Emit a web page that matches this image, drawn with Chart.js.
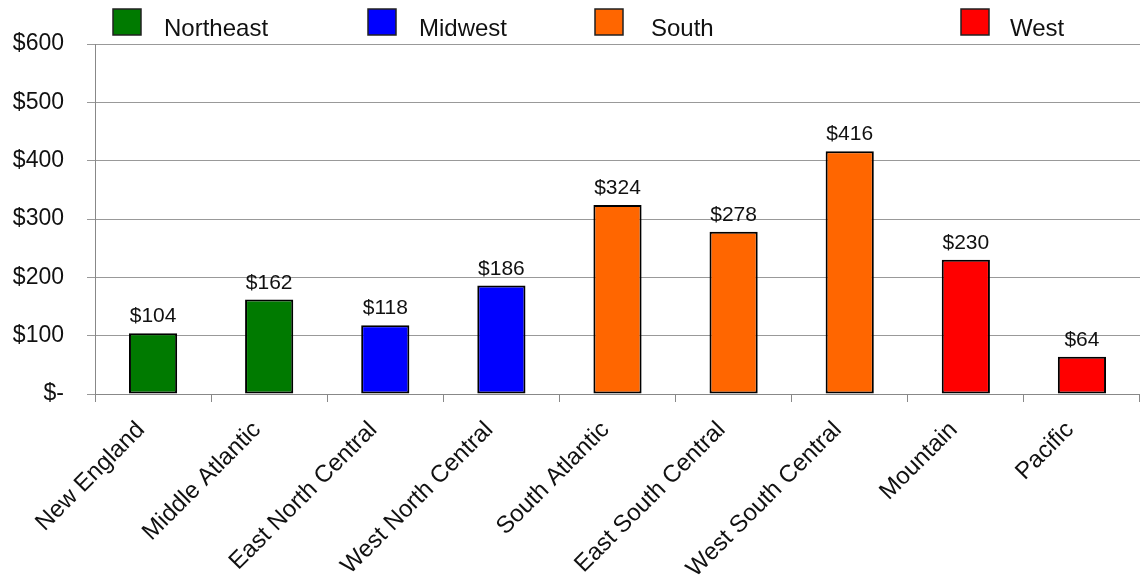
<!DOCTYPE html>
<html>
<head>
<meta charset="utf-8">
<script src="https://cdn.jsdelivr.net/npm/chart.js@4/dist/chart.umd.min.js"></script>
<style>
  html, body { margin: 0; padding: 0; background: #fff; }
  #wrap { width: 1140px; height: 580px; }
</style>
</head>
<body>
<div id="wrap"><canvas id="regionChart"></canvas></div>
<script>
const divisions = ['New England', 'Middle Atlantic', 'East North Central', 'West North Central',
    'South Atlantic', 'East South Central', 'West South Central', 'Mountain', 'Pacific'];
const amounts = [104, 162, 118, 186, 324, 278, 416, 230, 64];
const divisionRegion = [0, 0, 1, 1, 2, 2, 2, 3, 3];
const regions = ['Northeast', 'Midwest', 'South', 'West'];
const regionColors = ['#007a00', '#0000ff', '#ff6600', '#ff0000'];
const yTicks = [0, 100, 200, 300, 400, 500, 600];

const FONT = '"Liberation Sans", Arial, sans-serif';

// value labels sitting above each bar
const valueLabels = {
    id: 'valueLabels',
    afterDatasetsDraw(chart) {
        const ctx = chart.ctx;
        const meta = chart.getDatasetMeta(0);
        ctx.save();
        ctx.font = '21px ' + FONT;
        ctx.fillStyle = '#111';
        ctx.textAlign = 'center';
        ctx.textBaseline = 'alphabetic';
        meta.data.forEach((bar, i) => {
            ctx.fillText('$' + amounts[i], bar.x, bar.y - 11);
        });
        ctx.restore();
    }
};

// legend spread across the top like the original
const topLegend = {
    id: 'topLegend',
    afterDraw(chart) {
        const ctx = chart.ctx;
        const boxX = [113, 368, 595, 961];
        const textX = [164, 419, 651, 1010];
        ctx.save();
        ctx.font = '24px ' + FONT;
        ctx.textBaseline = 'middle';
        regions.forEach((name, i) => {
            ctx.fillStyle = regionColors[i];
            ctx.fillRect(boxX[i], 9, 28, 26);
            ctx.strokeStyle = '#222';
            ctx.lineWidth = 1.5;
            ctx.strokeRect(boxX[i], 9, 28, 26);
            ctx.fillStyle = '#111';
            ctx.fillText(name, textX[i], 29);
        });
        ctx.restore();
    }
};

new Chart(document.getElementById('regionChart').getContext('2d'), {
    type: 'bar',
    data: {
        labels: divisions,
        datasets: [{
            data: amounts,
            backgroundColor: divisionRegion.map(r => regionColors[r]),
            borderColor: '#000',
            borderWidth: 2,
            borderSkipped: false,
            barPercentage: 0.415,
            categoryPercentage: 1.0
        }]
    },
    options: {
        responsive: true,
        maintainAspectRatio: false,
        animation: false,
        layout: { padding: { top: 44, left: 0, right: 0, bottom: 0 } },
        plugins: {
            legend: { display: false },
            tooltip: { enabled: false }
        },
        scales: {
            x: {
                afterFit(axis) { axis.height = 186; },
                grid: { display: true, drawOnChartArea: false, offset: true, tickLength: 8, color: '#888' },
                border: { color: '#888' },
                ticks: {
                    color: '#111',
                    font: { family: FONT, size: 24 },
                    minRotation: 45,
                    maxRotation: 45,
                    autoSkip: false,
                    padding: 14,
                    labelOffset: -12
                }
            },
            y: {
                min: 0,
                max: 600,
                afterFit(axis) { axis.width = 95; },
                afterBuildTicks(axis) {
                    axis.ticks = yTicks.map(v => ({ value: v }));
                },
                grid: { color: '#999', tickLength: 8 },
                border: { color: '#888' },
                ticks: {
                    color: '#111',
                    font: { family: FONT, size: 23 },
                    padding: 23,
                    callback: v => v === 0 ? '$-' : '$' + v
                }
            }
        }
    },
    plugins: [valueLabels, topLegend]
});
</script>
</body>
</html>
